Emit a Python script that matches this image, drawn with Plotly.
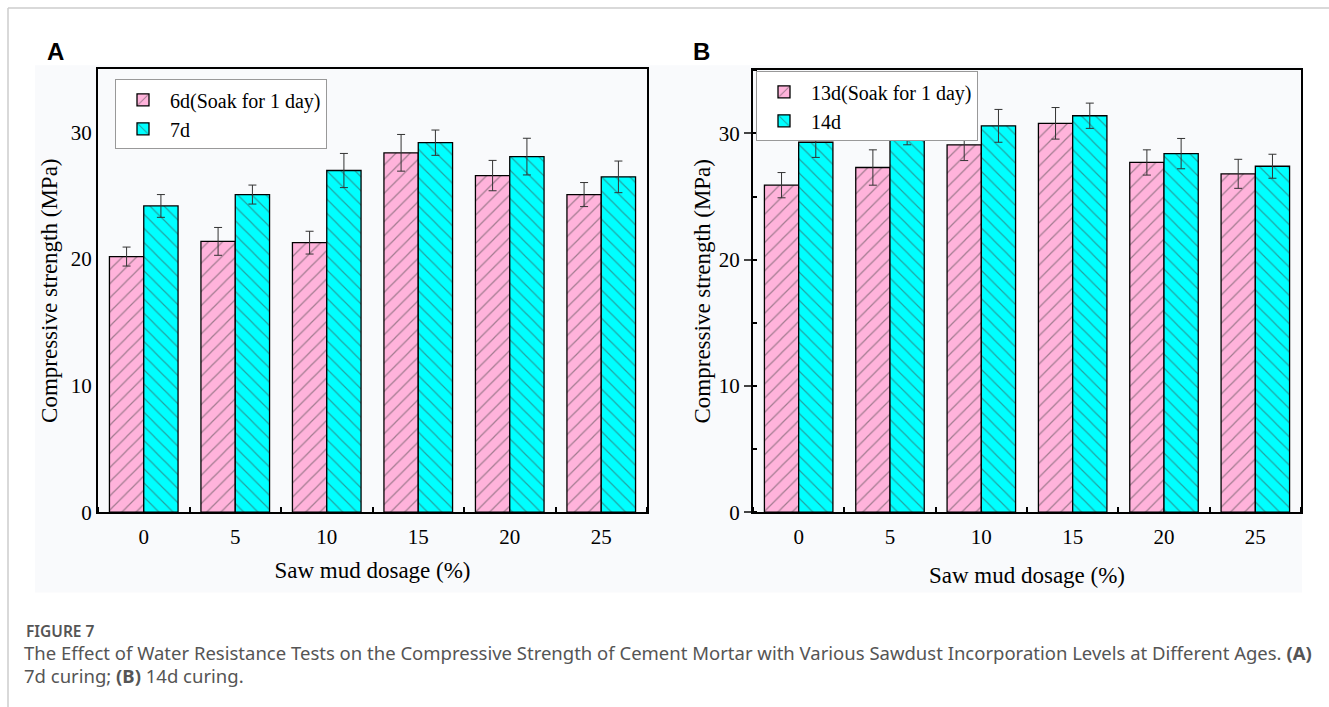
import plotly.graph_objects as go

dosage = [0, 5, 10, 15, 20, 25]
tick_labels = ["0", "5", "10", "15", "20", "25"]

a_soak_name = "6d(Soak for 1 day)"
a_soak = [20.2, 21.4, 21.3, 28.4, 26.6, 25.1]
a_soak_err = [0.75, 1.1, 0.9, 1.45, 1.2, 0.95]
a_std_name = "7d"
a_std = [24.2, 25.1, 27.0, 29.2, 28.1, 26.5]
a_std_err = [0.9, 0.75, 1.35, 1.0, 1.45, 1.25]

b_soak_name = "13d(Soak for 1 day)"
b_soak = [25.9, 27.3, 29.1, 30.8, 27.7, 26.8]
b_soak_err = [1.0, 1.4, 1.25, 1.25, 1.0, 1.15]
b_std_name = "14d"
b_std = [29.3, 29.8, 30.6, 31.4, 28.4, 27.4]
b_std_err = [1.2, 0.7, 1.3, 1.0, 1.2, 0.95]

PINK = "#FFB3DB"
CYAN = "#00FFFF"
SERIF = "Liberation Serif"
W, H = 1329, 707      # target picture size
FIG_H = 722           # rendered height (picture is scaled to H)

fig = go.Figure()


def add_bar(name, vals, errs, color, shape, xa, ya, legend):
    fig.add_trace(go.Bar(
        x=dosage, y=vals, name=name,
        marker=dict(color=color, line=dict(color="black", width=1.3),
                    pattern=dict(shape=shape, fgcolor="#444", size=10, solidity=0.12)),
        error_y=dict(type="data", array=errs, color="#333", thickness=1, width=4),
        xaxis=xa, yaxis=ya, legend=legend, offsetgroup=name,
    ))


add_bar(a_soak_name, a_soak, a_soak_err, PINK, "/", "x", "y", "legend")
add_bar(a_std_name, a_std, a_std_err, CYAN, "\\", "x", "y", "legend")
add_bar(b_soak_name, b_soak, b_soak_err, PINK, "/", "x2", "y2", "legend2")
add_bar(b_std_name, b_std, b_std_err, CYAN, "\\", "x2", "y2", "legend2")


def px(x):
    return x / W


def py(y):
    return 1 - y / H


def xaxis_cfg(domain, anchor, standoff):
    return dict(domain=domain, anchor=anchor,
                range=[-2.5, 27.5], tickvals=dosage, ticktext=tick_labels, ticks="",
                showline=True, linecolor="black", linewidth=2, mirror=True,
                showgrid=False, zeroline=False, ticklabelstandoff=5,
                tickfont=dict(family=SERIF, size=21, color="black"),
                minor=dict(tick0=2.5, dtick=5, ticks="inside", ticklen=5, tickcolor="black", tickwidth=2),
                title=dict(text="Saw mud dosage (%)", font=dict(family=SERIF, size=23, color="black"),
                           standoff=standoff))


def yaxis_cfg(domain, anchor, standoff, **extra):
    return dict(domain=domain, anchor=anchor,
                range=[0, 35], tickvals=[0, 10, 20, 30], showline=True, linecolor="black", linewidth=2,
                mirror=True, showgrid=False, zeroline=False,
                tickfont=dict(family=SERIF, size=21, color="black"),
                title=dict(text="Compressive strength (MPa)", font=dict(family=SERIF, size=23, color="black"),
                           standoff=standoff), **extra)


legend_common = dict(xanchor="left", yanchor="top", bgcolor="white", bordercolor="#999", borderwidth=1,
                     font=dict(family=SERIF, size=20, color="black"), tracegroupgap=0, itemwidth=44)

fig.update_layout(
    width=W, height=FIG_H,
    margin=dict(l=0, r=0, t=0, b=0),
    paper_bgcolor="white", plot_bgcolor="white",
    barmode="group", bargap=0.25, bargroupgap=0,
    xaxis=xaxis_cfg([px(98), px(647)], "y", 14),
    yaxis=yaxis_cfg([py(510), py(69)], "x", 7, ticks=""),
    xaxis2=xaxis_cfg([px(753), px(1301)], "y2", 19),
    yaxis2=yaxis_cfg([py(510), py(70)], "x2", 2, ticks="outside", ticklen=7, tickwidth=2,
                     minor=dict(dtick=5, ticks="inside", ticklen=4, tickwidth=2, tickcolor="black")),
    legend=dict(x=px(115), y=py(79), **legend_common),
    legend2=dict(x=px(756), y=py(71), **legend_common),
    showlegend=True,
)

fig.add_shape(type="rect", xref="paper", yref="paper", x0=px(35), x1=px(1302), y0=py(590), y1=py(65),
              fillcolor="#F9FAFC", line=dict(width=0), layer="below")
fig.add_shape(type="line", xref="paper", yref="paper", x0=px(8), x1=1, y0=py(8), y1=py(8),
              line=dict(color="#CCCCCC", width=1.5))
fig.add_shape(type="line", xref="paper", yref="paper", x0=px(8), x1=px(8), y0=py(8), y1=0,
              line=dict(color="#CCCCCC", width=1.5))

for label, xx in (("A", 55), ("B", 701)):
    fig.add_annotation(text=label, xref="paper", yref="paper", x=px(xx), y=py(51),
                       xanchor="center", yanchor="middle", showarrow=False,
                       font=dict(family="Liberation Sans", size=24, color="black", weight="bold"))

cap_font = dict(family="Noto Sans", color="#555555")
fig.add_annotation(text="FIGURE 7", xref="paper", yref="paper", x=px(24), y=py(628),
                   xanchor="left", yanchor="middle", showarrow=False,
                   font=dict(size=15.5, weight=600, **cap_font))
fig.add_annotation(text="The Effect of Water Resistance Tests on the Compressive Strength of Cement Mortar with Various Sawdust Incorporation Levels at Different Ages. <b>(A)</b>",
                   xref="paper", yref="paper", x=px(22), y=py(650),
                   xanchor="left", yanchor="middle", showarrow=False, font=dict(size=18.5, **cap_font))
fig.add_annotation(text="7d curing; <b>(B)</b> 14d curing.",
                   xref="paper", yref="paper", x=px(22), y=py(673),
                   xanchor="left", yanchor="middle", showarrow=False, font=dict(size=18.5, **cap_font))

post = ("var d=document.documentElement,b=document.body;"
        "d.style.margin='0';d.style.padding='0';"
        "b.style.margin='0';b.style.padding='0';b.style.overflow='hidden';")
fig.write_html("out.html", config={"displayModeBar": False}, post_script=post)
